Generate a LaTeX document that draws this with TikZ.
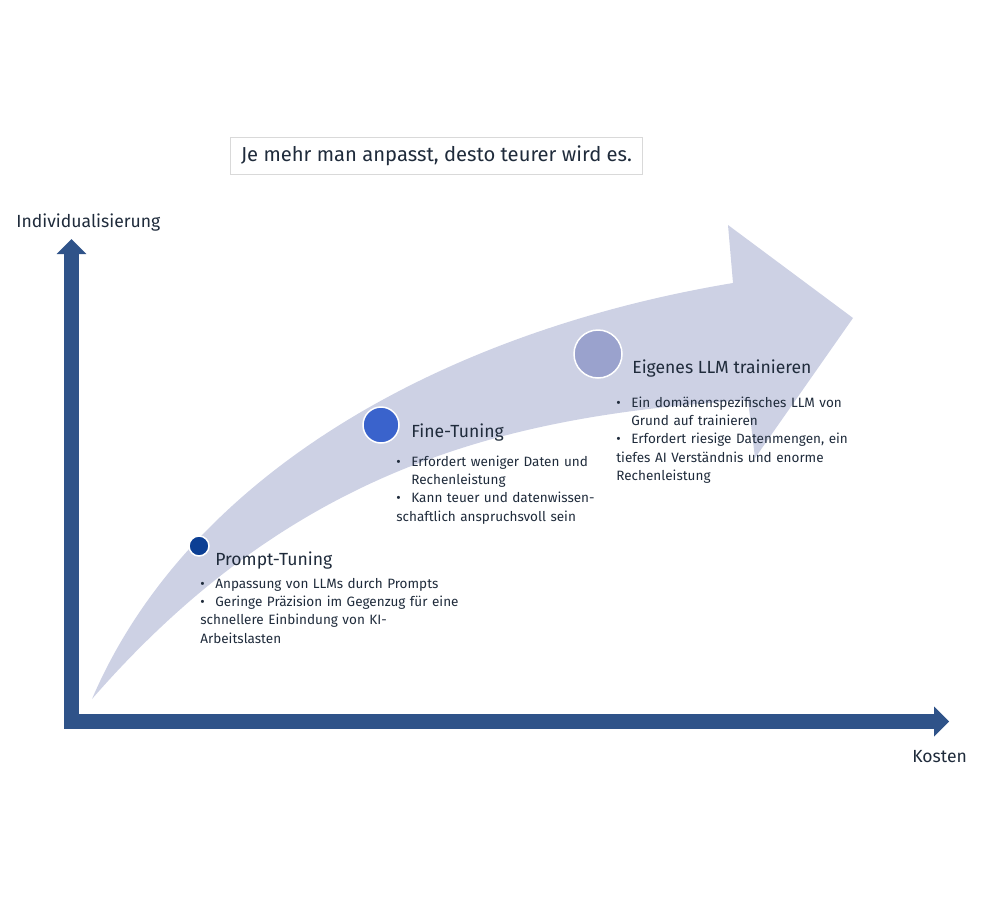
\documentclass[tikz,border=0pt]{standalone}
\usepackage{fontspec}
\setmainfont{Fira Sans}
\usepackage{tikz}
\usetikzlibrary{arrows.meta, positioning}

\definecolor{axisblue}{HTML}{2F5389}
\definecolor{arrowfill}{HTML}{CDD1E4}
\definecolor{dotprompt}{HTML}{0C3F94}
\definecolor{dotfine}{HTML}{3A63CC}
\definecolor{dotown}{HTML}{9AA2CD}
\definecolor{txt}{HTML}{1F2B3B}
\definecolor{boxline}{HTML}{D9D9D9}

% bullet item with hanging indent
\newcommand{\bitem}{\par\noindent\hangindent=0.3cm\hangafter=1\makebox[0.3cm][l]{\textbullet}}

\begin{document}
\begin{tikzpicture}[
  x=0.02cm, y=-0.02cm,
  axis/.style={draw=axisblue, line width=0.3cm, line join=miter,
    arrows={Triangle[length=0.3cm, width=0.6cm, line width=0pt]-Triangle[length=0.3cm, width=0.6cm, line width=0pt]}},
  bigarrow/.style={fill=arrowfill, draw=none},
  dot/.style={circle, draw=white, line width=0.03cm, inner sep=0pt},
  head/.style={text=txt, inner sep=0pt, font=\fontsize{10}{12}\selectfont},
  bullets/.style={text=txt, inner sep=0pt, text width=6.2cm, font=\fontsize{7.7}{10.4}\selectfont},
  axlabel/.style={text=txt, inner sep=0pt, font=\fontsize{10}{12}\selectfont},
  motto/.style={draw=boxline, line width=0.02cm, text=txt, minimum width=8.26cm, minimum height=0.74cm, font=\fontsize{11.5}{13}\selectfont},
]
\useasboundingbox (0,0) rectangle (1000,913);

% ===== growth arrow =====
\fill[bigarrow] (92,699) .. controls (190,470) and (450,330) .. (733,283)
  -- (728,225) -- (853,318) -- (755,458) -- (748,400)
  .. controls (520,415) and (300,460) .. cycle;

% ===== axes =====
\coordinate (ytip) at (71.5,239);
\coordinate (xtip) at (949,721.5);
\draw[axis] (ytip) |- (xtip);

\node[axlabel, anchor=base west] (ylab) at (16,227) {Individualisierung};
\node[axlabel, anchor=base west] (xlab) at (912,762) {Kosten};

% ===== motto =====
\node[motto] (motto) at (436.5,156) {Je mehr man anpasst, desto teurer wird es.};

% ===== stages =====
\node[dot, fill=dotprompt, minimum size=0.4cm] (pdot) at (199,546) {};
\node[head, anchor=base west] (ptitle) at (215,565) {Prompt-Tuning};
\node[bullets, anchor=base west] (plist) at (200,570) {%
  \bitem Anpassung von LLMs durch Prompts
  \bitem Geringe Präzision im Gegenzug für eine\newline schnellere Einbindung von KI-\newline Arbeitslasten};

\node[dot, fill=dotfine, minimum size=0.72cm] (fdot) at (381,425) {};
\node[head, anchor=base west] (ftitle) at (411,437) {Fine-Tuning};
\node[bullets, anchor=base west] (flist) at (396,448) {%
  \bitem Erfordert weniger Daten und\newline Rechenleistung
  \bitem Kann teuer und datenwissen-\newline schaftlich anspruchsvoll sein};

\node[dot, fill=dotown, minimum size=0.96cm] (odot) at (598,354) {};
\node[head, anchor=base west] (otitle) at (632,373) {Eigenes LLM trainieren};
\node[bullets, anchor=base west] (olist) at (616,389) {%
  \bitem Ein domänenspezifisches LLM von\newline Grund auf trainieren
  \bitem Erfordert riesige Datenmengen, ein\newline tiefes AI Verständnis und enorme\newline Rechenleistung};

\end{tikzpicture}
\end{document}
